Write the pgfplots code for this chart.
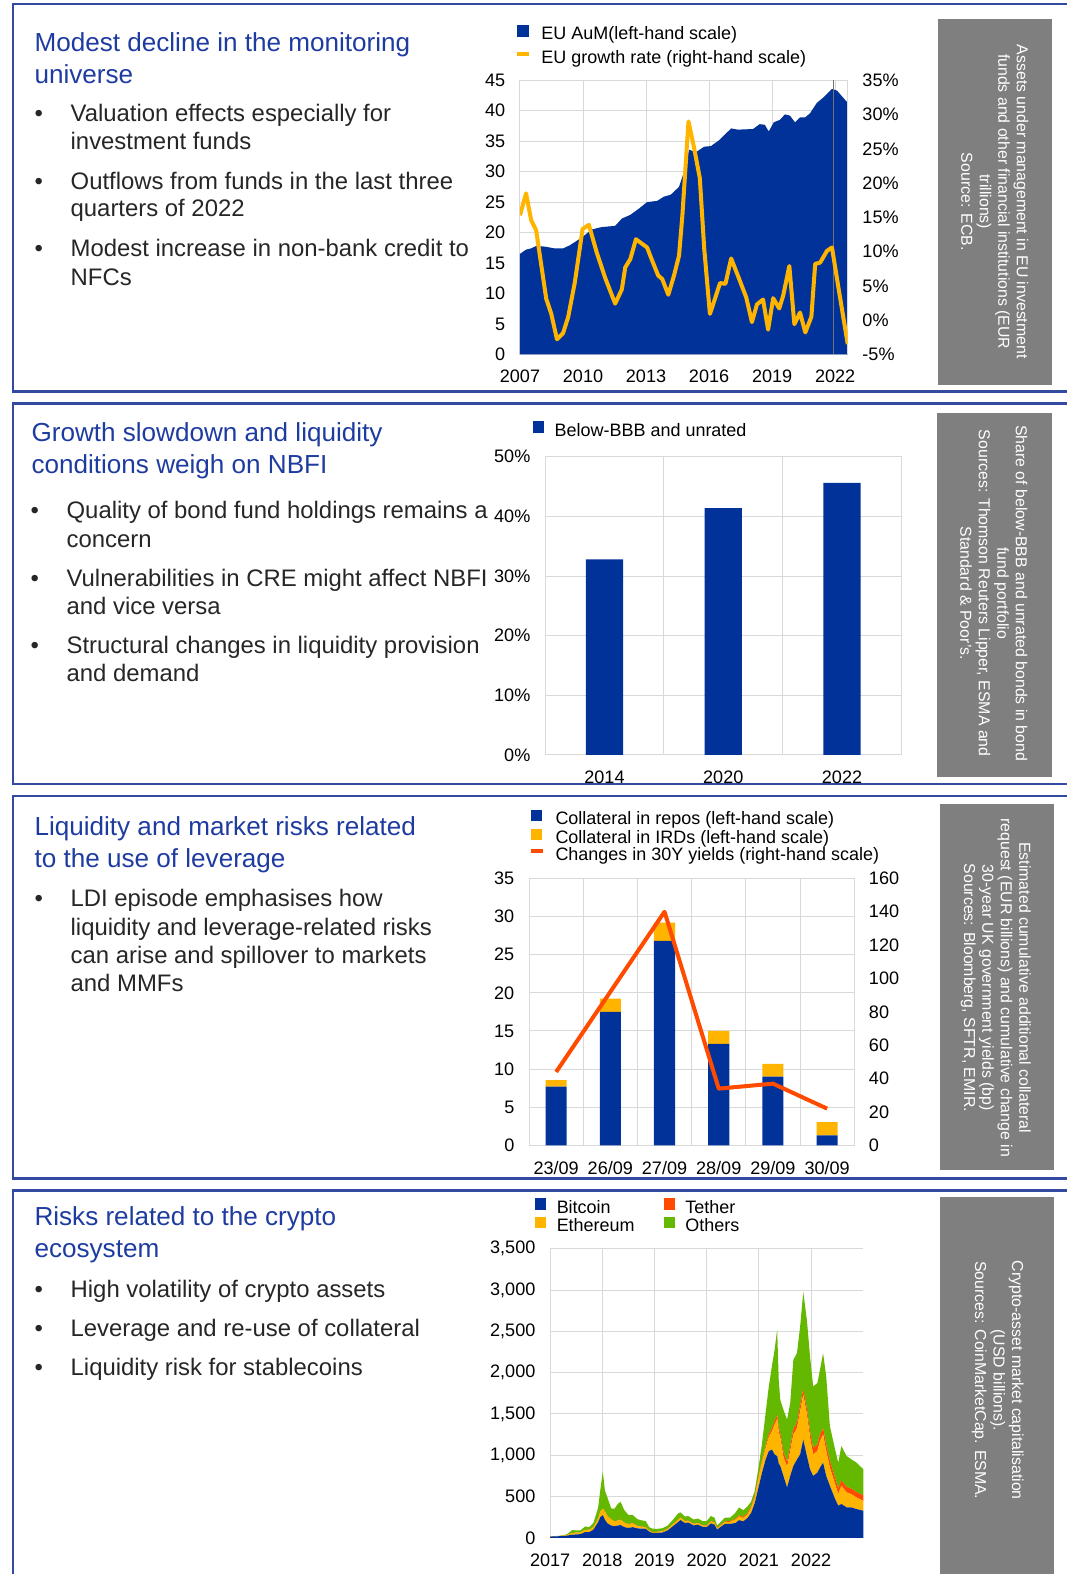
\documentclass[border=0pt]{standalone}
\usepackage{fontspec}
\setmainfont{Liberation Sans}
\usepackage{pgfplots}
\usepackage{pgfplotstable}
\pgfplotsset{compat=1.18}

\definecolor{ecbblue}{RGB}{0,50,153}
\definecolor{ecbyellow}{RGB}{255,180,0}
\definecolor{ecborange}{RGB}{255,75,0}
\definecolor{ecbgreen}{RGB}{101,184,0}
\definecolor{boxgray}{RGB}{127,127,127}
\definecolor{gridgray}{RGB}{217,217,217}
\definecolor{titleblue}{RGB}{30,60,160}
\definecolor{frameblue}{RGB}{50,75,160}
\definecolor{bodytext}{RGB}{38,38,38}

\pgfplotsset{
  ecb/.style={
    scale only axis,
    axis line style={draw=gridgray, line width=0.5pt},
    major tick length=0pt, minor tick length=0pt,
    tick style={draw=none},
    tick label style={font=\fontsize{9}{10}\selectfont, text=black},
    xticklabel shift=4.3pt, yticklabel shift=3.8pt,
    /pgf/number format/assume math mode=true,
    grid style={draw=gridgray, line width=0.5pt},
    minor grid style={draw=gridgray, line width=0.5pt},
    legend cell align=left,
    legend style={draw=none, fill=none, inner sep=0pt, outer sep=0pt,
      font=\fontsize{8.95}{10}\selectfont,
      nodes={inner sep=0pt, text height=6.5pt, text depth=2pt},
      /tikz/every odd column/.append style={column sep=5.2pt}},
  },
  sq/.style={legend image code/.code={\fill[#1] (0pt,-0.5pt) rectangle (5.6pt,5.1pt);}},
  ln/.style={legend image code/.code={\draw[#1, line width=2pt] (0pt,2.3pt) -- (6pt,2.3pt);}},
}

% crypto market capitalisation, USD billions
\pgfplotstableread{
t btc eth tet oth
2017.00 16 1 0 1
2017.08 18 1 0 2
2017.17 20 2 0 3
2017.25 20 5 0 6
2017.33 28 8 0 10
2017.42 38 20 0 35
2017.50 42 22 0 28
2017.58 45 20 0 25
2017.67 70 28 0 40
2017.75 70 28 1 30
2017.83 100 30 1 50
2017.92 190 45 1 130
2017.96 250 70 1 250
2018.01 275 80 2 445
2018.05 220 100 2 250
2018.10 175 90 2 220
2018.17 150 75 2 130
2018.23 140 60 2 150
2018.30 150 60 2 200
2018.35 155 65 2 215
2018.42 130 55 2 150
2018.50 120 45 3 110
2018.58 130 45 3 100
2018.67 115 30 3 80
2018.75 112 22 3 75
2018.83 110 20 3 72
2018.90 75 12 2 40
2018.96 60 10 2 40
2019.05 60 12 2 35
2019.15 65 15 2 35
2019.25 90 17 2 38
2019.35 140 25 2 50
2019.45 190 27 3 75
2019.50 215 30 3 60
2019.58 180 22 4 54
2019.65 185 20 4 55
2019.75 150 18 4 50
2019.83 160 20 4 50
2019.92 135 15 4 50
2020.00 130 14 4 55
2020.08 175 25 5 60
2020.15 160 24 5 55
2020.20 100 15 5 30
2020.25 125 17 6 35
2020.35 170 22 8 45
2020.45 170 25 9 40
2020.55 180 40 10 75
2020.62 215 45 13 95
2020.70 200 40 15 80
2020.78 240 45 16 80
2020.85 300 60 18 60
2020.92 420 70 19 60
2021.00 630 120 21 110
2021.06 790 130 25 200
2021.13 950 140 30 400
2021.19 1050 170 35 580
2021.25 1070 220 40 750
2021.30 1010 360 45 860
2021.35 990 450 50 1030
2021.38 900 380 55 580
2021.41 870 340 60 400
2021.47 750 230 62 510
2021.54 610 250 62 510
2021.60 750 300 63 520
2021.66 870 380 65 840
2021.73 950 380 68 840
2021.79 1010 520 70 960
2021.85 1190 540 73 1175
2021.92 990 500 75 1070
2021.98 830 380 78 905
2022.04 750 260 78 745
2022.12 790 260 79 745
2022.17 850 320 80 785
2022.23 910 340 80 905
2022.29 750 300 82 820
2022.36 630 220 83 420
2022.46 470 180 75 345
2022.52 390 140 70 310
2022.58 410 220 68 414
2022.68 370 180 68 373
2022.77 369 160 68 354
2022.87 349 140 66 356
2023.00 329 120 66 316
}\crypto

\begin{document}
\begin{tikzpicture}[x=0.5pt,y=-0.5pt]
\path[use as bounding box] (0,0) rectangle (1062,1568);

% panel frames
\draw[frameblue, line width=1.3pt] (1075,4) -- (13,4) -- (13,390) -- (1075,390);
\draw[frameblue, line width=1.3pt] (1075,402) -- (13,402) -- (13,781) -- (1075,781);
\draw[frameblue, line width=1.3pt] (1075,793) -- (13,793) -- (13,1174) -- (1075,1174);
\draw[frameblue, line width=1.3pt] (1075,1186) -- (13,1186) -- (13,1590);

% grey note boxes
\fill[boxgray] (934,19) rectangle (1048,384);
\fill[boxgray] (933,411) rectangle (1048,774);
\fill[boxgray] (936,801) rectangle (1050,1166);
\fill[boxgray] (936,1192) rectangle (1050,1580);

\begin{scope}[every node/.style={rotate=-90, align=center, text=white, inner sep=0pt,
    font=\fontsize{7.9}{9.2}\selectfont}]
\node at (991,201) {Assets under management in EU investment\\funds and other financial institutions (EUR\\trillions)\\Source: ECB.};
\node at (990,591) {Share of below-BBB and unrated bonds in bond\\fund portfolio\\Sources: Thomson Reuters Lipper, ESMA and\\Standard \& Poor's.};
\node at (992,984) {Estimated cumulative additional collateral\\request (EUR billions) and cumulative change in\\30-year UK government yields (bp)\\Sources: Bloomberg, SFTR, EMIR.};
\node at (994,1375) {Crypto-asset market capitalisation\\(USD billions).\\Sources: CoinMarketCap. ESMA.};
\end{scope}

% titles
\begin{scope}[every node/.style={anchor=base west, inner sep=0pt, text=titleblue,
    font=\fontsize{13}{15}\selectfont}]
\node at (34,51) {Modest decline in the monitoring};
\node at (34,83) {universe};
\node at (31,440) {Growth slowdown and liquidity};
\node at (31,472) {conditions weigh on NBFI};
\node at (34,832) {Liquidity and market risks related};
\node at (34,864) {to the use of leverage};
\node at (34,1221) {Risks related to the crypto};
\node at (34,1253) {ecosystem};
\end{scope}

% bullet text
\begin{scope}[every node/.style={anchor=base west, inner sep=0pt, text=bodytext,
    font=\fontsize{11.9}{14}\selectfont}]
\node at (34,121) {\textbullet}; \node at (70,121) {Valuation effects especially for};
\node at (70,149) {investment funds};
\node at (34,189) {\textbullet}; \node at (70,189) {Outflows from funds in the last three};
\node at (70,216) {quarters of 2022};
\node at (34,256) {\textbullet}; \node at (70,256) {Modest increase in non-bank credit to};
\node at (70,284) {NFCs};
\node at (30,517) {\textbullet}; \node at (66,517) {Quality of bond fund holdings remains a};
\node at (66,545) {concern};
\node at (30,584) {\textbullet}; \node at (66,584) {Vulnerabilities in CRE might affect NBFI};
\node at (66,612) {and vice versa};
\node at (30,651) {\textbullet}; \node at (66,651) {Structural changes in liquidity provision};
\node at (66,679) {and demand};
\node at (34,903) {\textbullet}; \node at (70,903) {LDI episode emphasises how};
\node at (70,932) {liquidity and leverage-related risks};
\node at (70,960) {can arise and spillover to markets};
\node at (70,988) {and MMFs};
\node at (34,1293) {\textbullet}; \node at (70,1293) {High volatility of crypto assets};
\node at (34,1331) {\textbullet}; \node at (70,1331) {Leverage and re-use of collateral};
\node at (34,1370) {\textbullet}; \node at (70,1370) {Liquidity risk for stablecoins};
\end{scope}

% ---------- panel 1 ----------
\begin{axis}[ecb, at={(259pt,-176.5pt)}, anchor=south west,
  width=163.25pt, height=136.5pt,
  xmin=2007, xmax=2022.6, ymin=0, ymax=45,
  xtick={2007,2010,...,2022}, ytick={0,5,...,45},
  xticklabel style={/pgf/number format/1000 sep={}},
  xmajorgrids, ymajorgrids]
\addplot[fill=ecbblue, draw=none] coordinates {
(2007.00,16.5)(2007.29,17.2)(2007.53,17.4)(2007.77,17.8)(2008.17,17.7)(2008.65,17.4)
(2009.05,17.4)(2009.37,17.9)(2009.77,18.8)(2010.09,19.6)(2010.41,20.5)(2010.89,20.9)
(2011.53,21.1)(2011.85,22.3)(2012.25,22.9)(2012.65,23.9)(2013.05,25.0)(2013.53,25.2)
(2013.85,25.9)(2014.17,26.2)(2014.57,27.5)(2014.81,30.0)(2015.05,33.6)(2015.37,33.2)
(2015.77,34.1)(2016.09,34.2)(2016.49,35.2)(2017.05,37.1)(2017.37,36.9)(2018.09,37.0)
(2018.41,37.8)(2018.65,37.7)(2018.84,36.6)(2019.08,38.1)(2019.37,38.5)(2019.61,39.4)
(2019.85,39.2)(2020.09,38.1)(2020.33,38.9)(2020.57,38.9)(2020.81,39.6)(2021.13,41.3)
(2021.45,42.2)(2021.85,43.6)(2022.09,43.3)(2022.60,41.3)} \closedcycle;
\draw[black!55, line width=0.4pt] (axis cs:2021.9,0) -- (axis cs:2021.9,45);
\end{axis}
\begin{axis}[ecb, at={(259pt,-176.5pt)}, anchor=south west,
  width=163.25pt, height=136.5pt,
  xmin=2007, xmax=2022.6, ymin=-5, ymax=35,
  axis x line=none, axis y line*=right, ytick={-5,0,...,35},
  yticklabel={\pgfmathprintnumber{\tick}\%},
  legend style={at={(-0.0153,1.2026)}, anchor=north west,
    /tikz/every odd row/.append style={row sep=3pt}},
  ]
\addlegendimage{sq=ecbblue}
\addlegendentry{EU AuM(left-hand scale)}
\addplot[ecbyellow, line width=2pt, line join=round, ln=ecbyellow] coordinates {
(2007.00,15.3)(2007.29,18.5)(2007.53,14.6)(2007.77,13.1)(2008.25,3.1)(2008.49,0.9)
(2008.76,-2.8)(2009.05,-1.9)(2009.29,0.4)(2009.61,5.5)(2009.98,13.3)(2010.28,13.9)
(2010.65,9.9)(2011.05,6.2)(2011.53,2.4)(2011.85,4.5)(2012.01,7.7)(2012.25,8.9)
(2012.52,11.8)(2013.05,10.6)(2013.29,8.7)(2013.58,6.5)(2013.77,6.0)(2014.06,3.7)
(2014.33,6.5)(2014.57,9.4)(2014.73,15.3)(2015.02,29.0)(2015.29,25.1)(2015.56,20.7)
(2015.77,10.4)(2016.04,0.9)(2016.30,3.3)(2016.52,5.4)(2016.78,5.3)(2017.05,9.0)
(2017.37,6.5)(2017.77,3.3)(2018.04,-0.3)(2018.28,2.3)(2018.57,3.0)(2018.81,-1.4)
(2019.05,3.2)(2019.34,1.7)(2019.53,3.6)(2019.82,7.9)(2020.06,-0.6)(2020.33,1.1)
(2020.58,-1.8)(2020.87,0.5)(2021.05,8.2)(2021.29,8.4)(2021.61,10.1)(2021.85,10.6)
(2022.17,4.5)(2022.60,-3.5)};
\addlegendentry{EU growth rate (right-hand scale)}
\end{axis}

% ---------- panel 2 ----------
\begin{axis}[ecb, at={(271.5pt,-376pt)}, anchor=south west,
  width=177.5pt, height=148.5pt,
  ybar, bar width=18.5pt,
  xmin=-0.5, xmax=2.5, ymin=0, ymax=50,
  xtick={0,1,2}, xticklabels={2014,2020,2022},
  minor xtick={0.5,1.5}, xminorgrids,
  ytick={0,10,...,50}, ymajorgrids,
  yticklabel={\pgfmathprintnumber{\tick}\%},
  legend style={at={(-0.0338,1.119)}, anchor=north west}]
\addplot[fill=ecbblue, draw=none, sq=ecbblue] coordinates {(0,32.8) (1,41.4) (2,45.6)};
\addlegendentry{Below-BBB and unrated}
\end{axis}

% ---------- panel 3 ----------
\begin{axis}[ecb, at={(263.5pt,-570.5pt)}, anchor=south west,
  width=162pt, height=133pt,
  ybar stacked, bar width=10.5pt,
  xmin=-0.5, xmax=5.5, ymin=0, ymax=35,
  xtick={0,...,5}, xticklabels={23/09,26/09,27/09,28/09,29/09,30/09},
  minor xtick={0.5,1.5,...,4.5}, xminorgrids,
  ytick={0,5,...,35}, ymajorgrids,
  legend style={at={(0,1.2568)}, anchor=north west}]
\addplot[fill=ecbblue, draw=none, sq=ecbblue] coordinates {(0,7.7) (1,17.5) (2,26.8) (3,13.3) (4,9.0) (5,1.3)};
\addlegendentry{Collateral in repos (left-hand scale)}
\addplot[fill=ecbyellow, draw=none, sq=ecbyellow] coordinates {(0,0.85) (1,1.75) (2,2.4) (3,1.7) (4,1.7) (5,1.75)};
\addlegendentry{Collateral in IRDs (left-hand scale)}
\addlegendimage{ln=ecborange}
\addlegendentry{Changes in 30Y yields (right-hand scale)}
\end{axis}
\begin{axis}[ecb, at={(263.5pt,-570.5pt)}, anchor=south west,
  width=162pt, height=133pt,
  xmin=-0.5, xmax=5.5, ymin=0, ymax=160,
  axis x line=none, axis y line*=right, ytick={0,20,...,160}]
\addplot[ecborange, line width=2pt, line join=round] coordinates {(0,44) (1,92) (2,140) (3,34) (4,37) (5,22)};
\end{axis}

% ---------- panel 4 ----------
\begin{axis}[ecb, at={(274pt,-766pt)}, anchor=south west,
  width=156pt, height=144pt,
  axis x line*=bottom, axis y line*=left,
  xmin=2017, xmax=2023, ymin=0, ymax=3500,
  xtick={2017,...,2022}, ytick={0,500,...,3500},
  xticklabel style={/pgf/number format/1000 sep={}},
  yticklabel style={/pgf/number format/1000 sep={,}},
  xmajorgrids, ymajorgrids,
  stack plots=y,
  legend columns=2, transpose legend,
  legend style={at={(-0.048,1.1747)}, anchor=north west,
    /tikz/every even column/.append style={column sep=14.5pt}}]
\addplot[fill=ecbblue, draw=none, sq=ecbblue] table[x=t, y=btc] {\crypto} \closedcycle;
\addlegendentry{Bitcoin}
\addplot[fill=ecbyellow, draw=none, sq=ecbyellow] table[x=t, y=eth] {\crypto} \closedcycle;
\addlegendentry{Ethereum}
\addplot[fill=ecborange, draw=none, sq=ecborange] table[x=t, y=tet] {\crypto} \closedcycle;
\addlegendentry{Tether}
\addplot[fill=ecbgreen, draw=none, sq=ecbgreen] table[x=t, y=oth] {\crypto} \closedcycle;
\addlegendentry{Others}
\end{axis}
\end{tikzpicture}
\end{document}
